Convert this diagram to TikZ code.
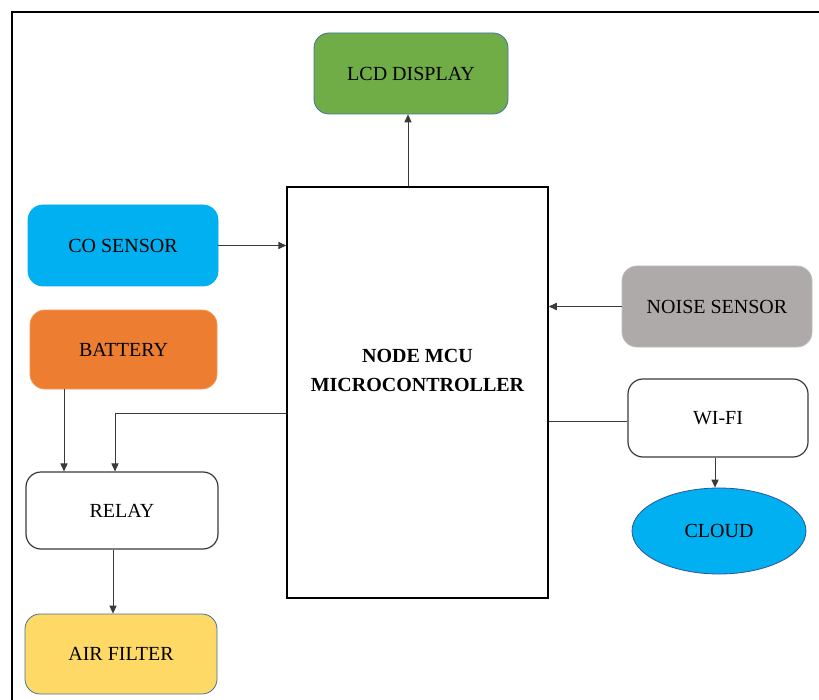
\documentclass[tikz,border=0pt]{standalone}
\usepackage{fontspec}
\setmainfont{Liberation Serif}
\usetikzlibrary{arrows.meta,shapes.geometric}
\definecolor{lcdgreen}{HTML}{70AD47}
\definecolor{cocyan}{HTML}{00B0F0}
\definecolor{batorange}{HTML}{ED7D31}
\definecolor{noisegray}{HTML}{AEAAAA}
\definecolor{filteryellow}{HTML}{FFD966}
\definecolor{edgeblue}{HTML}{41719C}
\definecolor{clouddark}{HTML}{2F5597}
\definecolor{linegray}{HTML}{3A3A3A}
\tikzset{
  blk/.style={draw, rounded corners=7.5pt, minimum width=#1, align=center,
    font=\fontsize{10}{12}\selectfont, inner sep=0pt},
  conn/.style={draw=linegray, line width=0.5pt},
  arr/.style={conn, -{Triangle[length=4pt,width=3.6pt]}},
}
\begin{document}
\begin{tikzpicture}[x=0.5pt,y=-0.5pt]
\useasboundingbox (0,0) rectangle (819,700);
% frame
\draw[line width=1pt] (11.5,700) -- (11.5,12) -- (819,12);
% nodes
\node[blk=97pt, minimum height=40.5pt, fill=lcdgreen, draw=edgeblue, text depth=-3pt] (lcd) at (411,73.5) {LCD DISPLAY};
\node[draw=black, line width=0.75pt, minimum width=130.5pt, minimum height=205.5pt, inner sep=0pt] (mcu) at (417.5,392.5) {};
\node[font=\bfseries\fontsize{10}{14.5}\selectfont, align=center] (mcut) at (417.5,370.5) {NODE MCU\\MICROCONTROLLER};
\node[blk=95pt, minimum height=40.5pt, fill=cocyan, draw=cocyan] (co) at (123,245.5) {CO SENSOR};
\node[blk=95pt, minimum height=40.5pt, fill=noisegray, draw=noisegray!80] (noise) at (717,306.5) {NOISE SENSOR};
\node[blk=93.5pt, minimum height=39.5pt, fill=batorange, draw=batorange!80] (bat) at (123.5,349.5) {BATTERY};
\node[blk=96pt, minimum height=38.5pt, fill=white, draw=linegray, line width=0.6pt] (relay) at (122,510.5) {RELAY};
\node[blk=96pt, minimum height=40pt, fill=filteryellow, draw=edgeblue] (filter) at (121,654) {AIR FILTER};
\node[blk=90pt, minimum height=39pt, fill=white, draw=linegray, line width=0.6pt] (wifi) at (718,418) {WI-FI};
\node[ellipse, draw=clouddark, fill=cocyan, minimum width=87pt, minimum height=43pt, inner sep=0pt,
  font=\fontsize{10}{12}\selectfont] (cloud) at (719,531) {CLOUD};
% connectors
\draw[arr] (mcu.north -| 408,0) -- (lcd.south -| 408,0);
\draw[arr] (co.east) -- (co.east -| mcu.west);
\draw[arr] (noise.west) -- (noise.west -| mcu.east);
\draw[arr] (bat.south -| 64,0) -- (relay.north -| 64,0);
\coordinate (mcuL) at (mcu.west |- 0,413);
\draw[arr] (mcuL) -| (relay.north -| 115,0);
\draw[conn] (wifi.west |- 0,421) -- (mcu.east |- 0,421);
\draw[arr] (wifi.south -| 715,0) -- (cloud.north -| 715,0);
\draw[arr] (relay.south -| 113,0) -- (filter.north -| 113,0);
\end{tikzpicture}
\end{document}
